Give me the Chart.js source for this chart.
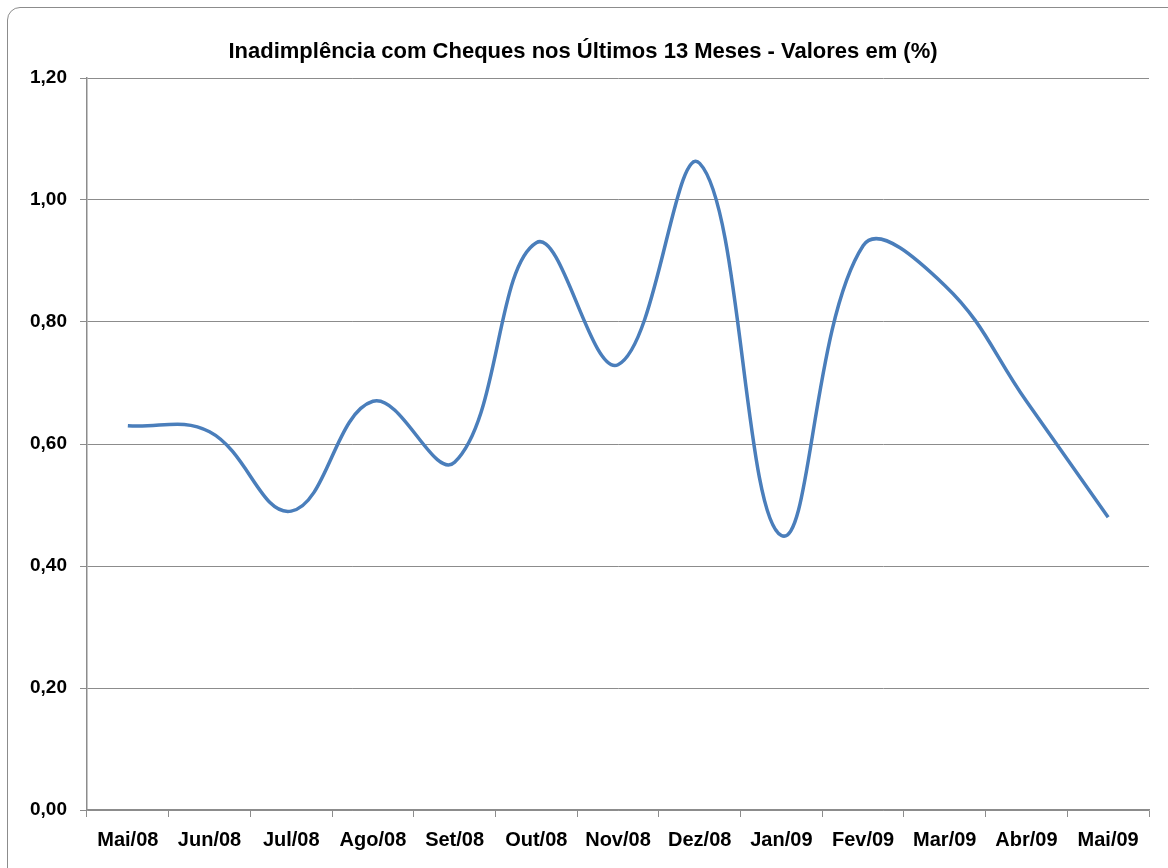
<!DOCTYPE html>
<html>
<head>
<meta charset="utf-8">
<script src="https://cdn.jsdelivr.net/npm/chart.js@4.4.1/dist/chart.umd.min.js"></script>
<style>
  html, body { margin: 0; padding: 0; background: #ffffff; overflow: hidden; }
  #wrap { position: relative; width: 1168px; height: 868px; overflow: hidden; }
  #frame { position: absolute; left: 7px; top: 7px; width: 1180px; height: 880px;
           border: 1.5px solid #8c8c8c; border-radius: 13px; box-sizing: border-box; pointer-events: none; }
  canvas { position: absolute; left: 0; top: 0; }
</style>
</head>
<body>
<div id="wrap">
  <canvas id="c" width="1168" height="868"></canvas>
  <div id="frame"></div>
</div>
<script>
const chartTitle = 'Inadimplência com Cheques nos Últimos 13 Meses - Valores em (%)';
const months = ['Mai/08', 'Jun/08', 'Jul/08', 'Ago/08', 'Set/08', 'Out/08', 'Nov/08',
                'Dez/08', 'Jan/09', 'Fev/09', 'Mar/09', 'Abr/09', 'Mai/09'];
const inadimplencia = [0.63, 0.62, 0.49, 0.67, 0.57, 0.93, 0.73, 1.06, 0.45, 0.925, 0.86, 0.67, 0.48];
const yTickValues = [0, 0.2, 0.4, 0.6, 0.8, 1.0, 1.2];

const gridGray = '#8c8c8c';

new Chart(document.getElementById('c'), {
  type: 'line',
  data: {
    labels: months,
    datasets: [{
      data: inadimplencia,
      borderColor: '#4A7EBB',
      borderWidth: 3.5,
      pointRadius: 0,
      tension: 0.4,
      fill: false
    }]
  },
  options: {
    responsive: false,
    animation: false,
    layout: { padding: { left: 17, right: 19, top: 0, bottom: 0 } },
    plugins: {
      legend: { display: false },
      tooltip: { enabled: false },
      title: {
        display: true,
        text: chartTitle,
        color: '#000000',
        font: { family: "'Liberation Sans', Arial, sans-serif", size: 22, weight: 'bold', lineHeight: 1.2 },
        padding: { top: 39, bottom: 12.6 }
      }
    },
    scales: {
      x: {
        type: 'category',
        offset: true,
        afterFit: (s) => { s.height = 58; },
        grid: { offset: true, drawOnChartArea: false, drawTicks: true, tickLength: 7, color: gridGray, lineWidth: 1 },
        border: { display: true, color: gridGray, width: 1.5 },
        ticks: {
          color: '#000000',
          padding: 11,
          maxRotation: 0,
          autoSkip: false,
          font: { family: "'Liberation Sans', Arial, sans-serif", size: 20, weight: 'bold' }
        }
      },
      y: {
        min: 0,
        max: 1.2,
        afterFit: (s) => { s.width = 70; },
        afterBuildTicks: (s) => { s.ticks = yTickValues.map(v => ({ value: v })); },
        grid: { drawTicks: true, tickLength: 7, color: gridGray, lineWidth: 1 },
        border: { display: true, color: gridGray, width: 1.5 },
        ticks: {
          color: '#000000',
          padding: 13,
          font: { family: "'Liberation Sans', Arial, sans-serif", size: 19, weight: 'bold' },
          callback: (v) => Number(v).toFixed(2).replace('.', ',')
        }
      }
    }
  }
});
</script>
</body>
</html>
